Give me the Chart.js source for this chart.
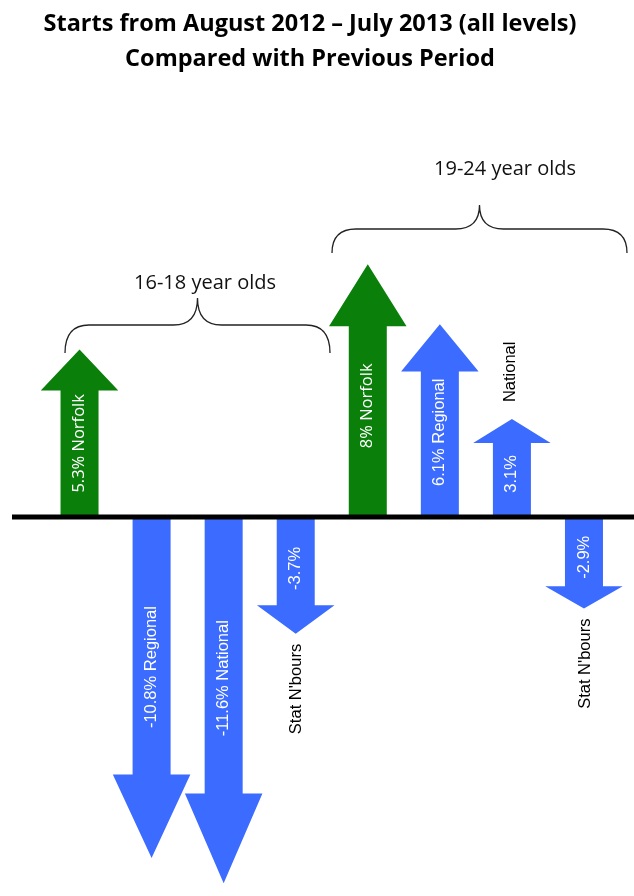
<!DOCTYPE html>
<html>
<head>
<meta charset="utf-8">
<script src="https://cdn.jsdelivr.net/npm/chart.js@4"></script>
<style>
  html, body { margin: 0; padding: 0; background: #fff; }
  canvas { display: block; }
</style>
</head>
<body>
<canvas id="arrowChart" width="634" height="896"></canvas>
<script>
    // Chart data
    const titleLines = ["Starts from August 2012 \u2013 July 2013 (all levels)", "Compared with Previous Period"];
    const groupNames = ["16-18 year olds", "19-24 year olds"];
    const areas = ["Norfolk", "Regional", "National", "Stat N'bours", "Norfolk", "Regional", "National", "Stat N'bours"];
    const changes = [5.3, -10.8, -11.6, -3.7, 8, 6.1, 3.1, -2.9];
    const innerLabels = ["5.3% Norfolk", "-10.8% Regional", "-11.6% National", "-3.7%", "8% Norfolk", "6.1% Regional", "3.1%", "-2.9%"];
    const outerLabels = ["", "", "", "Stat N'bours", "", "", "National", "Stat N'bours"];

    const GREEN = "#0a7f0a";
    const BLUE = "#3b6bff";

    // title and braces are placed by hand, like in the original slide
    const TITLE_X = 310;
    const braces = [
        { x1: 65, x2: 330, endY: 353, midY: 325, peakY: 298, labelX: 205, labelY: 283 },
        { x1: 332, x2: 627, endY: 253, midY: 229, peakY: 205, labelX: 505, labelY: 169 }
    ];

    function drawBrace(ctx, b) {
        const r = 24;
        const px = (b.x1 + b.x2) / 2;
        ctx.beginPath();
        ctx.moveTo(b.x1, b.endY);
        ctx.quadraticCurveTo(b.x1, b.midY, b.x1 + r, b.midY);
        ctx.lineTo(px - r, b.midY);
        ctx.quadraticCurveTo(px, b.midY, px, b.peakY);
        ctx.quadraticCurveTo(px, b.midY, px + r, b.midY);
        ctx.lineTo(b.x2 - r, b.midY);
        ctx.quadraticCurveTo(b.x2, b.midY, b.x2, b.endY);
        ctx.stroke();
    }

    function rotatedText(ctx, text, x, y, align) {
        ctx.save();
        ctx.translate(x, y);
        ctx.rotate(-Math.PI / 2);
        ctx.textAlign = align;
        ctx.textBaseline = "middle";
        ctx.fillText(text, 0, 0);
        ctx.restore();
    }

    const arrowPlugin = {
        id: "arrows",
        afterDatasetsDraw(chart) {
            const ctx = chart.ctx;
            const meta = chart.getDatasetMeta(0);
            const zeroY = chart.scales.y.getPixelForValue(0);

            meta.data.forEach((bar, i) => {
                const { x, y, base, width } = bar.getProps(["x", "y", "base", "width"], true);
                const dir = y < base ? -1 : 1;
                const len = Math.abs(y - base);
                const headLen = len * 0.245;
                const half = width / 2;
                const headHalf = width * 1.02;
                const neck = y - dir * headLen;

                ctx.save();
                ctx.fillStyle = areas[i] === "Norfolk" ? GREEN : BLUE;
                ctx.beginPath();
                ctx.moveTo(x - half, base);
                ctx.lineTo(x - half, neck);
                ctx.lineTo(x - headHalf, neck);
                ctx.lineTo(x, y);
                ctx.lineTo(x + headHalf, neck);
                ctx.lineTo(x + half, neck);
                ctx.lineTo(x + half, base);
                ctx.closePath();
                ctx.fill();

                // label inside the shaft
                ctx.fillStyle = "#fff";
                ctx.font = areas[i] === "Norfolk" ? "16.5px 'Open Sans'" : "16.5px 'Liberation Sans'";
                rotatedText(ctx, innerLabels[i], x, base + dir * len * 0.44, "center");

                // label beyond the tip
                if (outerLabels[i]) {
                    ctx.fillStyle = "#000";
                    ctx.font = "16.5px 'Liberation Sans'";
                    if (dir < 0) {
                        rotatedText(ctx, outerLabels[i], x - 1, y - 17, "left");
                    } else {
                        rotatedText(ctx, outerLabels[i], x + 1, y + 10, "right");
                    }
                }
                ctx.restore();
            });

            // zero line across the whole slide
            ctx.save();
            ctx.strokeStyle = "#000";
            ctx.lineWidth = 5;
            ctx.beginPath();
            ctx.moveTo(12, zeroY);
            ctx.lineTo(chart.width, zeroY);
            ctx.stroke();
            ctx.restore();

            // group braces
            ctx.save();
            ctx.strokeStyle = "#222";
            ctx.lineWidth = 1.3;
            ctx.fillStyle = "#111";
            ctx.font = "20px 'Open Sans'";
            ctx.textAlign = "center";
            ctx.textBaseline = "middle";
            groupNames.forEach((name, g) => {
                drawBrace(ctx, braces[g]);
                ctx.fillText(name, braces[g].labelX, braces[g].labelY);
            });
            ctx.restore();

            // title
            ctx.save();
            ctx.fillStyle = "#000";
            ctx.font = "bold 23.5px 'Open Sans'";
            ctx.textAlign = "center";
            ctx.textBaseline = "middle";
            titleLines.forEach((line, k) => ctx.fillText(line, TITLE_X, 24 + k * 35));
            ctx.restore();
        }
    };

    new Chart(document.getElementById("arrowChart"), {
        type: "bar",
        data: {
            labels: areas,
            datasets: [{
                data: changes,
                backgroundColor: "rgba(0,0,0,0)",
                borderWidth: 0,
                barThickness: 38
            }]
        },
        options: {
            responsive: false,
            animation: false,
            layout: { padding: { left: 43.5, right: 14, top: 138, bottom: 0 } },
            scales: {
                x: { display: false },
                y: { display: false, min: -12, max: 12 }
            },
            plugins: {
                legend: { display: false },
                tooltip: { enabled: false },
                title: { display: false }
            }
        },
        plugins: [arrowPlugin]
    });
</script>
</body>
</html>
